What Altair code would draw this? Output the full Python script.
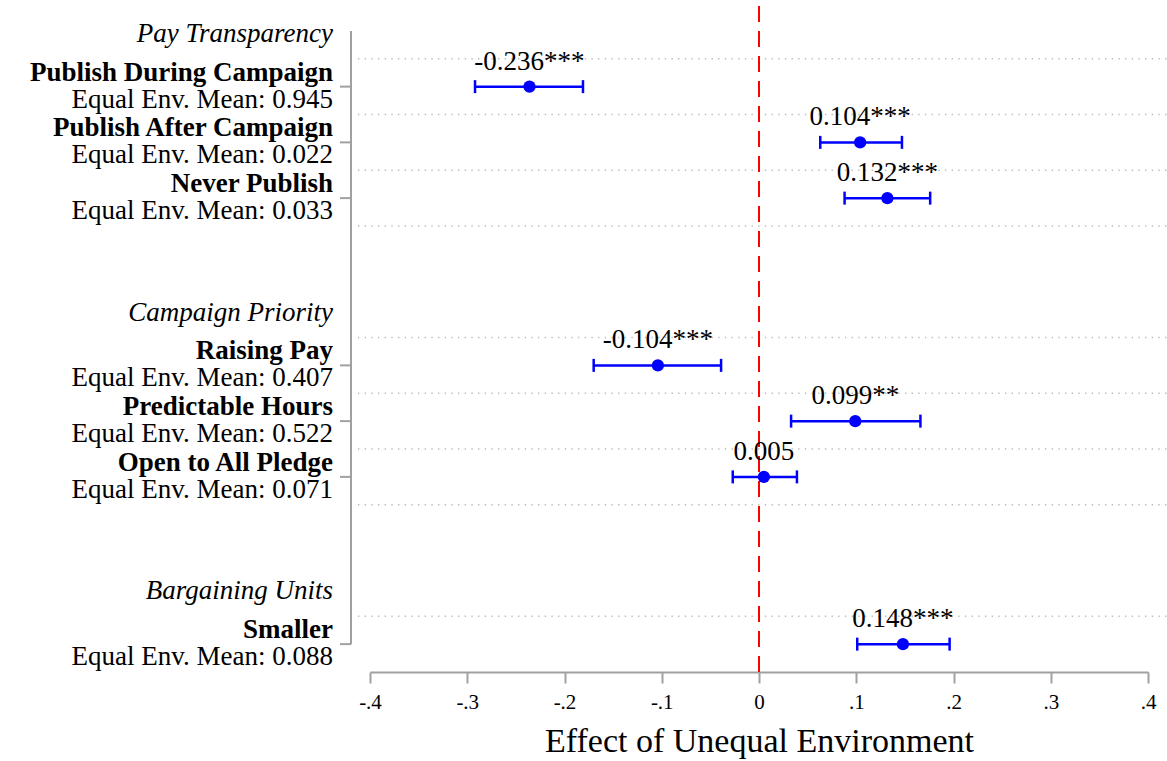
import altair as alt
import pandas as pd

# Coefficient plot: effect of an unequal environment on each choice,
# grouped by decision type, with 95% confidence intervals.
groups = ["Pay Transparency", "Campaign Priority", "Bargaining Units"]
terms = [
    "Publish During Campaign",
    "Publish After Campaign",
    "Never Publish",
    "Raising Pay",
    "Predictable Hours",
    "Open to All Pledge",
    "Smaller",
]
term_group = [0, 0, 0, 1, 1, 1, 2]
coef = [-0.236, 0.104, 0.132, -0.104, 0.099, 0.005, 0.148]
ci_lo = [-0.292, 0.063, 0.088, -0.170, 0.033, -0.027, 0.101]
ci_hi = [-0.181, 0.147, 0.176, -0.039, 0.166, 0.039, 0.196]
stars = ["***", "***", "***", "***", "**", "", "***"]
equal_mean = [0.945, 0.022, 0.033, 0.407, 0.522, 0.071, 0.088]
x_ticks = [-0.4, -0.3, -0.2, -0.1, 0, 0.1, 0.2, 0.3, 0.4]

FONT = "Liberation Serif"
BLUE = "#0000ff"
GREY = "#a0a0a0"

# Row layout: heading, then one coefficient every second row, then a gap.
header_rows, coef_rows = [], []
row = 1
for g in range(len(groups)):
    header_rows.append(row)
    members = [i for i, tg in enumerate(term_group) if tg == g]
    for k, _ in enumerate(members):
        coef_rows.append(row + 2 * (k + 1))
    row += 2 * (len(members) + 1) + 2
y_max = max(coef_rows) + 1
grid_rows = sorted({r + d for r in coef_rows for d in (-1, 1) if r + d < y_max})

coefs = pd.DataFrame({
    "term": terms,
    "row": coef_rows,
    "coef": coef,
    "lo": ci_lo,
    "hi": ci_hi,
    "label": [f"{c:.3f}{s}" for c, s in zip(coef, stars)],
    "mean_label": [f"Equal Env. Mean: {m:.3f}" for m in equal_mean],
})
heads = pd.DataFrame({"group": groups, "row": header_rows})
grid = pd.DataFrame({"row": grid_rows})
caps = pd.DataFrame({
    "row": coef_rows * 2,
    "end": ci_lo + ci_hi,
})
yaxis = pd.DataFrame({"y0": [min(header_rows)], "y1": [max(coef_rows)]})

x_axis = alt.Axis(
    values=x_ticks,
    labelExpr="datum.value == 0 ? '0' : (datum.value < 0 ? '-' : '') + '.' + round(abs(datum.value) * 10)",
    labelFont=FONT, labelFontSize=21, labelColor="black", labelPadding=8,
    labelFlush=False,
    tickSize=11, tickColor=GREY, tickWidth=2,
    domainColor=GREY, domainWidth=2, grid=False,
    titleFont=FONT, titleFontSize=34, titleFontWeight="normal",
    titleColor="black", titlePadding=12,
)
x_scale = alt.Scale(domain=[-0.4, 0.4], nice=False, zero=False)
y_scale = alt.Scale(domain=[0, y_max], reverse=True, nice=False, zero=False)
TITLE = "Effect of Unequal Environment"


def X(field):
    return alt.X(field, type="quantitative", scale=x_scale, axis=x_axis, title=TITLE)


def Y(field):
    return alt.Y(field, type="quantitative", scale=y_scale, axis=None)


gridlines = alt.Chart(grid).mark_rule(
    color="#b8b8b8", strokeWidth=1.3, strokeDash=[1.3, 5.37]
).encode(x=alt.value(-12), x2=alt.value(797), y=Y("row"))

left_axis = alt.Chart(yaxis).mark_rule(color=GREY, strokeWidth=2).encode(
    x=alt.value(-19), y=Y("y0"), y2="y1"
)
left_ticks = alt.Chart(coefs).mark_rule(color=GREY, strokeWidth=2).encode(
    x=alt.value(-30), x2=alt.value(-19), y=Y("row")
)

zero_line = alt.Chart(heads).mark_rule(
    color="#ff0000", strokeWidth=2, strokeDash=[16, 9]
).encode(x=alt.X(datum=0, type="quantitative", scale=x_scale, axis=x_axis, title=TITLE),
         y=alt.value(3), y2=alt.value(669))

bars = alt.Chart(coefs).mark_rule(color=BLUE, strokeWidth=2.5).encode(
    x=X("lo"), x2="hi", y=Y("row")
)
cap_marks = alt.Chart(caps).mark_tick(
    color=BLUE, orient="vertical", size=13, thickness=2.5, opacity=1
).encode(x=X("end"), y=Y("row"))
points = alt.Chart(coefs).mark_circle(color=BLUE, size=150, opacity=1).encode(
    x=X("coef"), y=Y("row")
)
values = alt.Chart(coefs).mark_text(
    font=FONT, fontSize=27, dy=-17, baseline="alphabetic", align="center", color="black"
).encode(x=X("coef"), y=Y("row"), text="label")

term_text = alt.Chart(coefs).mark_text(
    font=FONT, fontSize=27, fontWeight="bold", align="right",
    baseline="alphabetic", dy=-6, color="black"
).encode(x=alt.value(-37), y=Y("row"), text="term")
mean_text = alt.Chart(coefs).mark_text(
    font=FONT, fontSize=27, align="right", baseline="alphabetic", dy=21, color="black"
).encode(x=alt.value(-37), y=Y("row"), text="mean_label")
head_text = alt.Chart(heads).mark_text(
    font=FONT, fontSize=27, fontStyle="italic", align="right",
    baseline="alphabetic", dy=11, color="black"
).encode(x=alt.value(-37), y=Y("row"), text="group")

chart = alt.layer(
    gridlines, left_axis, left_ticks, zero_line, bars, cap_marks, points,
    values, term_text, mean_text, head_text,
).properties(
    width=778,
    height=669,
    padding={"left": 370, "top": 3, "right": 19, "bottom": 89},
    autosize=alt.AutoSizeParams(type="none"),
    background="white",
).configure_view(stroke=None)

chart.save("out.html", embed_options={"renderer": "svg", "actions": False})
